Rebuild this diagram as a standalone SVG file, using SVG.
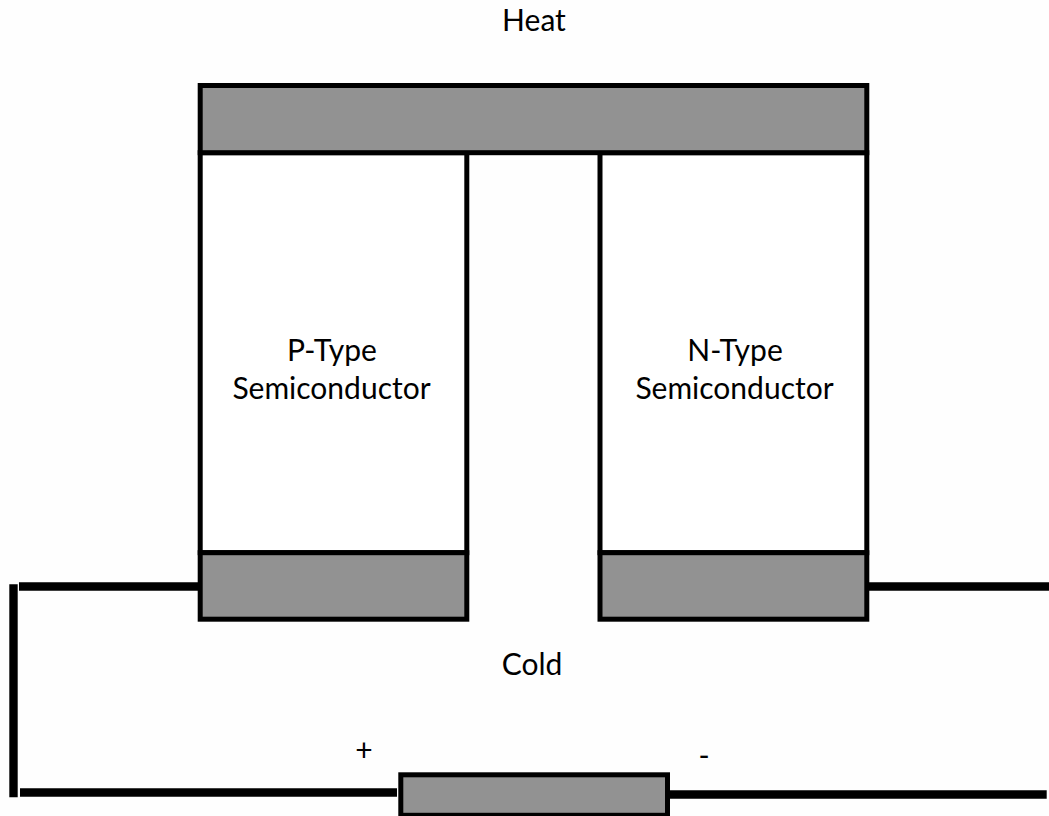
<svg xmlns="http://www.w3.org/2000/svg" width="1049" height="816" viewBox="0 0 1049 816">
<style>
.box{fill:#fff;stroke:#000;stroke-width:5}
.plate{fill:#929292;stroke:#000;stroke-width:5}
.wire{fill:none;stroke:#000;stroke-width:8.4}
text{font-family:"Lato","Liberation Sans",sans-serif;font-size:30px;fill:#000;text-anchor:middle}
</style>
<rect width="1049" height="816" fill="#fefefe"/>
<g id="connectors">
<line class="wire" x1="19" y1="586.5" x2="198" y2="586.5"/>
<line class="wire" x1="13.5" y1="584.3" x2="13.5" y2="797.3"/>
<line class="wire" x1="20" y1="792.5" x2="397" y2="792.5"/>
<line class="wire" x1="869" y1="586.5" x2="1049" y2="586.5"/>
<line class="wire" x1="670" y1="794.5" x2="1046.7" y2="794.5"/>
</g>
<g id="p-type"><rect class="box" x="200.2" y="152.7" width="266.6" height="400"/>
<text x="332" y="361">P-Type</text><text x="331.5" y="398.5">Semiconductor</text></g>
<g id="n-type"><rect class="box" x="600" y="152.7" width="266.8" height="400"/>
<text x="735" y="361">N-Type</text><text x="734.5" y="398.5">Semiconductor</text></g>
<g id="heat-plate"><rect class="plate" x="200.2" y="85.5" width="666.6" height="67.2"/></g>
<g id="p-cold-plate"><rect class="plate" x="200.2" y="552.7" width="266.6" height="66.5"/></g>
<g id="n-cold-plate"><rect class="plate" x="600" y="552.7" width="266.8" height="66.5"/></g>
<g id="load"><rect class="plate" x="400.8" y="774.8" width="266.7" height="40.5"/></g>
<g id="labels">
<text x="534" y="31">Heat</text>
<text x="532" y="675">Cold</text>
<text x="364" y="761">+</text>
<text x="704" y="766">-</text>
</g>
</svg>
